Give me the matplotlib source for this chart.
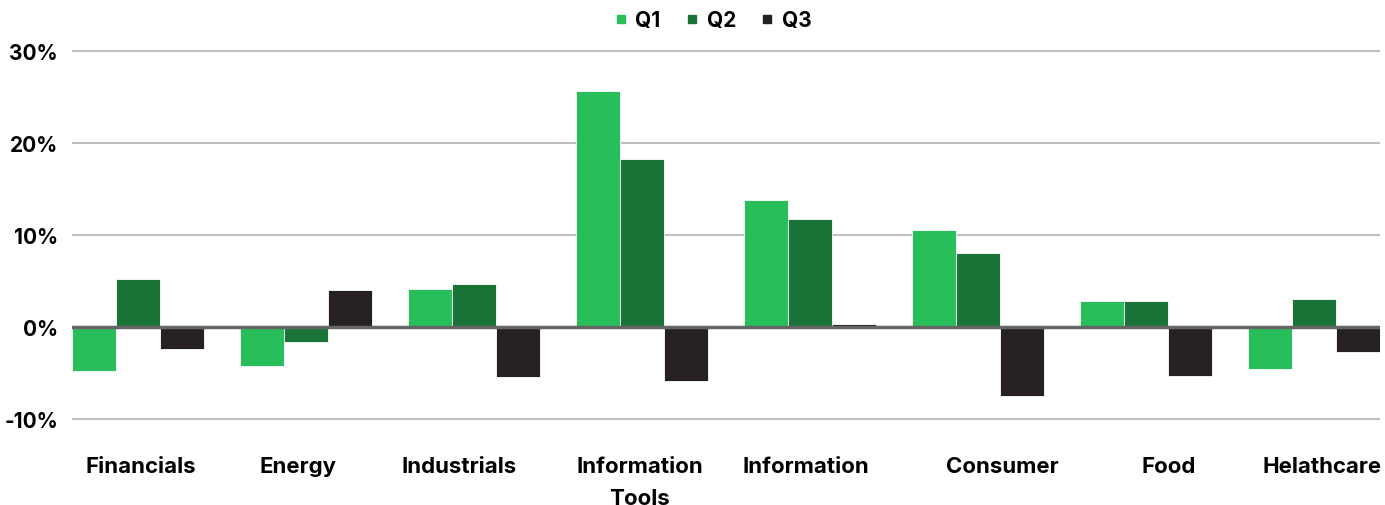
import matplotlib.pyplot as plt
import numpy as np
from matplotlib.lines import Line2D
from matplotlib.transforms import ScaledTranslation

# data
categories = ["Financials", "Energy", "Industrials", "Information\nTools",
              "Information", "Consumer", "Food", "Helathcare"]
q1 = [-4.8, -4.2, 4.1, 25.7, 13.8, 10.5, 2.8, -4.6]
q2 = [5.2, -1.6, 4.7, 18.3, 11.7, 8.0, 2.8, 3.0]
q3 = [-2.4, 4.0, -5.4, -5.9, 0.3, -7.5, -5.3, -2.7]
series_names = ["Q1", "Q2", "Q3"]
colors = ["#28bf5a", "#1a7437", "#262020"]
yticks = [-10, 0, 10, 20, 30]

plt.rcParams['font.family'] = ['Inter', 'DejaVu Sans']
plt.rcParams['font.weight'] = 'bold'

W, H = 1385, 506
fig = plt.figure(figsize=(W / 100, H / 100), dpi=100)

# axes placed in pixel units
px_per_unit = 9.2
y_lo, y_hi = -10.5, 30.5
top_px = 52 - (y_hi - 30) * px_per_unit
bot_px = 420 + (-10 - y_lo) * px_per_unit
left_px, right_px = 72, 1380
ax = fig.add_axes([left_px / W, (H - bot_px) / H,
                   (right_px - left_px) / W, (bot_px - top_px) / H])

x = np.arange(len(categories))
bw = 44 / 168
for i, (vals, name, c) in enumerate(zip([q1, q2, q3], series_names, colors)):
    ax.bar(x + (i - 1) * bw, vals, width=bw, color=c, label=name, zorder=3,
           edgecolor='white', linewidth=0.6)

ax.set_xlim(-1.5 * bw, len(categories) - 1 + 1.5 * bw)
ax.set_ylim(y_lo, y_hi)

ax.set_yticks(yticks)
ax.set_yticklabels([f"{v}%" for v in yticks], fontsize=15, fontweight='bold')
for v in yticks:
    ax.axhline(v, color="#666666" if v == 0 else "#bfbfbf",
               lw=2.5 if v == 0 else 1.5, zorder=2 if v else 4)

ax.set_xticks(x)
ax.set_xticklabels(categories, fontsize=16, fontweight='bold', linespacing=1.75)
ax.tick_params(axis='x', length=0, pad=23)
ax.tick_params(axis='y', length=0, pad=10)
for s in ax.spines.values():
    s.set_visible(False)

# labels in the reference are nudged off the group centres a little (pixels)
nudge = [3, -8, -15, -2, -4, 24, 23, 8]
for lab, dx in zip(ax.get_xticklabels(), nudge):
    lab.set_transform(lab.get_transform() + ScaledTranslation(dx / 100, 0, fig.dpi_scale_trans))

handles = [Line2D([], [], marker='s', ls='none', color=c, markersize=6)
           for c in colors]
fig.legend(handles, series_names, loc='center', bbox_to_anchor=(711 / W, 1 - 21 / H),
           ncol=3, frameon=False, handletextpad=0.2, columnspacing=1.0,
           handlelength=1.0, prop={'weight': 'bold', 'size': 15})

fig.savefig("out.png", dpi=100, facecolor='white')
